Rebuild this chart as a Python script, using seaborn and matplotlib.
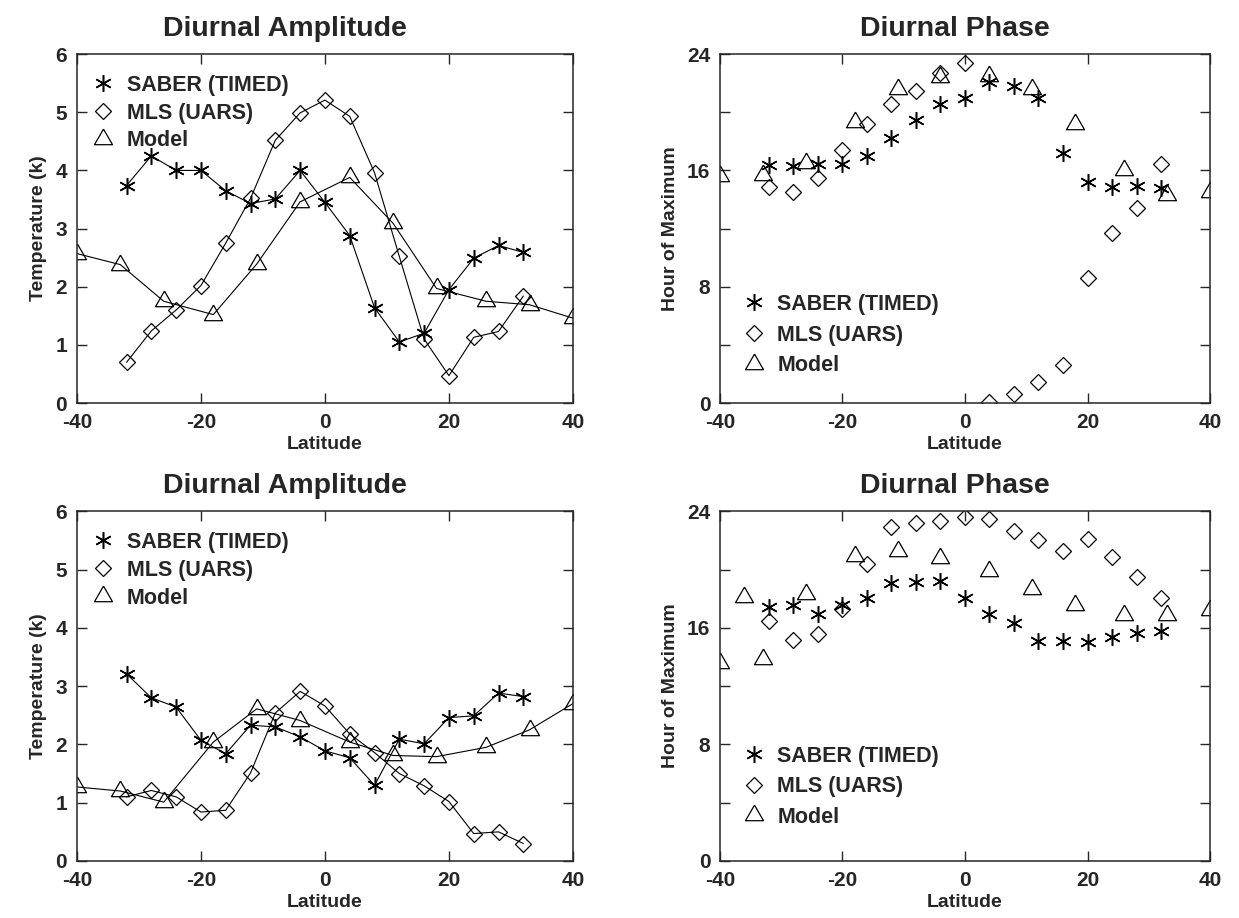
import matplotlib

matplotlib.use("Agg")
import matplotlib.pyplot as plt  # noqa: E402
from matplotlib.lines import Line2D  # noqa: E402
from matplotlib.ticker import MultipleLocator  # noqa: E402
import seaborn as sns  # noqa: E402

# latitudes of the observations and of the model grid
lat_obs = [-32, -28, -24, -20, -16, -12, -8, -4, 0, 4, 8, 12, 16, 20, 24, 28, 32]
lat_model = [-40, -33, -26, -18, -11, -4, 4, 11, 18, 26, 33, 40]
lat_model_b = [-40, -36, -33, -26, -18, -11, -4, 4, 11, 18, 26, 33, 40]

# upper row
amp_saber_a = [3.74, 4.25, 4.0, 4.0, 3.65, 3.43, 3.51, 4.0, 3.45, 2.88, 1.64, 1.05, 1.2, 1.95, 2.49, 2.71, 2.59]
amp_mls_a = [0.70, 1.24, 1.60, 2.02, 2.75, 3.52, 4.52, 4.99, 5.21, 4.93, 3.96, 2.52, 1.10, 0.47, 1.13, 1.23, 1.84]
amp_model_a = [2.57, 2.38, 1.75, 1.52, 2.39, 3.46, 3.88, 3.09, 1.97, 1.75, 1.69, 1.46]
pha_saber_a = [16.37, 16.3, 16.42, 16.42, 17.0, 18.2, 19.46, 20.6, 21.0, 22.1, 21.8, 21.0, 17.2, 15.2, 14.84, 14.9, 14.77]
pha_mls_a = [14.84, 14.5, 15.5, 17.4, 19.2, 20.6, 21.46, 22.7, 23.36, 0.05, 0.64, 1.42, 2.63, 8.59, 11.68, 13.4, 16.44]
pha_model_a = [15.6, 15.7, 16.5, 19.3, 21.6, 22.4, 22.5, 21.6, 19.2, 16.0, 14.3, 14.5]

# lower row
amp_saber_b = [3.21, 2.80, 2.64, 2.07, 1.84, 2.33, 2.30, 2.13, 1.89, 1.77, 1.30, 2.09, 2.01, 2.46, 2.49, 2.88, 2.82]
amp_mls_b = [1.10, 1.21, 1.10, 0.84, 0.87, 1.51, 2.54, 2.91, 2.66, 2.18, 1.86, 1.50, 1.29, 1.02, 0.47, 0.50, 0.30]
amp_model_b = [1.27, 1.20, 1.01, 2.04, 2.61, 2.41, 2.04, 1.81, 1.79, 1.95, 2.25, 2.70]
pha_saber_b = [17.4, 17.56, 16.95, 17.59, 18.04, 19.05, 19.17, 19.19, 18.04, 16.95, 16.33, 15.11, 15.07, 15.0, 15.39, 15.62, 15.75]
pha_mls_b = [16.49, 15.16, 15.57, 17.29, 20.38, 22.94, 23.17, 23.31, 23.59, 23.47, 22.67, 22.03, 21.3, 22.1, 20.84, 19.46, 18.02]
pha_model_b = [13.6, 18.1, 13.85, 18.3, 20.95, 21.3, 20.8, 19.9, 18.66, 17.6, 16.9, 16.9, 17.2]

labels = ["SABER (TIMED)", "MLS (UARS)", "Model"]

sns.set_style("ticks")
plt.rcParams["font.family"] = ["Liberation Sans", "DejaVu Sans"]
plt.rcParams["font.weight"] = "bold"
plt.rcParams["axes.unicode_minus"] = False

TRIANGLE = [(0, 1), (-0.866, -0.5), (0.866, -0.5), (0, 1)]
STYLES = [
    dict(marker=(6, 2, 0), markersize=12, markeredgewidth=1.1),
    dict(marker="D", markersize=8, markeredgewidth=0.9, markerfacecolor="none"),
    dict(marker=TRIANGLE, markersize=15, markeredgewidth=0.9, markerfacecolor="none"),
]


def draw_series(ax, xs, ys, style, joined):
    sns.lineplot(
        x=xs, y=ys, ax=ax, estimator=None, sort=False, color="black",
        linewidth=0.8 if joined else 0, linestyle="-" if joined else "none",
        markeredgecolor="black", **style,
    )


def style_axes(ax, ylim, ylabel, title, title_x):
    ax.set_xlim(-40, 40)
    ax.set_ylim(*ylim)
    ax.xaxis.set_major_locator(MultipleLocator(20))
    ax.tick_params(axis="both", which="both", direction="in", top=True, right=True,
                   length=7, width=1.0, labelsize=15, pad=7)
    for spine in ax.spines.values():
        spine.set_linewidth(1.1)
        spine.set_visible(True)
    ax.set_xlabel("Latitude", fontsize=14, fontweight="bold", labelpad=3)
    ax.set_ylabel(ylabel, fontsize=14, fontweight="bold", labelpad=6)
    ax.set_title(title, fontsize=20.5, fontweight="bold", pad=13, x=title_x)


def add_legend(ax, loc, anchor, spacing):
    handles = [Line2D([], [], color="black", linestyle="none", markeredgecolor="black", **s)
               for s in STYLES]
    ax.legend(handles, labels, loc=loc, bbox_to_anchor=anchor, frameon=False,
              prop={"size": 15.5, "weight": "bold"}, handletextpad=0.5,
              labelspacing=spacing, handlelength=1.2, borderaxespad=0)


fig = plt.figure(figsize=(12.39, 9.18), dpi=100)
ax_tl = fig.add_axes([0.0621, 0.561, 0.4003, 0.380])
ax_tr = fig.add_axes([0.5811, 0.561, 0.3955, 0.380])
ax_bl = fig.add_axes([0.0621, 0.0621, 0.4003, 0.381])
ax_br = fig.add_axes([0.5811, 0.0621, 0.3955, 0.381])

for ax, saber, mls, model, lm in [
    (ax_tl, amp_saber_a, amp_mls_a, amp_model_a, lat_model),
    (ax_bl, amp_saber_b, amp_mls_b, amp_model_b, lat_model),
]:
    draw_series(ax, lat_obs, saber, STYLES[0], True)
    draw_series(ax, lat_obs, mls, STYLES[1], True)
    draw_series(ax, lm, model, STYLES[2], True)
    style_axes(ax, (0, 6), "Temperature (k)", "Diurnal Amplitude", 0.42)
    ax.yaxis.set_major_locator(MultipleLocator(1))
    add_legend(ax, "upper left", (0.01, 0.966), 0.32)

for ax, saber, mls, model, lm, legend_y in [
    (ax_tr, pha_saber_a, pha_mls_a, pha_model_a, lat_model, 0.052),
    (ax_br, pha_saber_b, pha_mls_b, pha_model_b, lat_model_b, 0.07),
]:
    draw_series(ax, lat_obs, saber, STYLES[0], False)
    draw_series(ax, lat_obs, mls, STYLES[1], False)
    draw_series(ax, lm, model, STYLES[2], False)
    style_axes(ax, (0, 24), "Hour of Maximum", "Diurnal Phase", 0.48)
    ax.yaxis.set_major_locator(MultipleLocator(8))
    ax.yaxis.set_minor_locator(MultipleLocator(4))
    add_legend(ax, "lower left", (0.025, legend_y), 0.45)

fig.savefig("out.png", dpi=100)
plt.close(fig)
